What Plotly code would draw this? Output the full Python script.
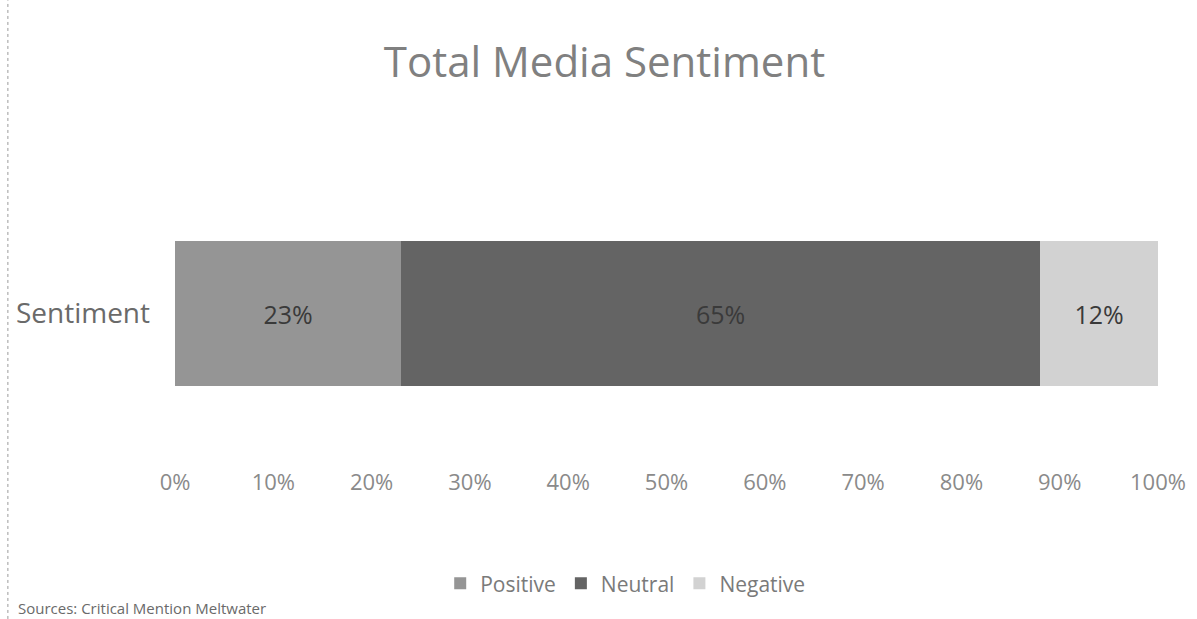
import plotly.graph_objects as go

# Share of coverage by sentiment (fractions of total)
category = ["Sentiment"]
series_names = ["Positive", "Neutral", "Negative"]
series_values = [[0.23], [0.65], [0.12]]
series_colors = ["#959595", "#646464", "#d2d2d2"]
tick_values = [0, 0.1, 0.2, 0.3, 0.4, 0.5, 0.6, 0.7, 0.8, 0.9, 1.0]
tick_labels = ["0%", "10%", "20%", "30%", "40%", "50%", "60%", "70%", "80%", "90%", "100%"]

font_family = "Open Sans, Liberation Sans, sans-serif"

fig = go.Figure()
for name, vals, color in zip(series_names, series_values, series_colors):
    fig.add_trace(go.Bar(
        y=category,
        x=vals,
        name=name,
        orientation="h",
        marker=dict(color=color, line=dict(width=0)),
        text=[f"{v:.0%}" for v in vals],
        textposition="inside",
        insidetextanchor="middle",
        textfont=dict(size=25, color="#3a3a3a", family=font_family),
    ))

fig.update_layout(
    barmode="stack",
    bargap=0.53,
    width=1197,
    height=619,
    margin=dict(l=175, r=39, t=160, b=152),
    paper_bgcolor="white",
    plot_bgcolor="white",
    title=dict(
        text="Total Media Sentiment",
        x=0.505,
        xanchor="center",
        y=0.9,
        yanchor="middle",
        font=dict(size=42, color="#808080", family=font_family),
    ),
    xaxis=dict(
        range=[0, 1],
        tickvals=tick_values,
        ticktext=tick_labels,
        showgrid=False,
        zeroline=False,
        showline=False,
        ticks="",
        tickfont=dict(size=22, color="#8a8a8a", family=font_family),
    ),
    yaxis=dict(
        showgrid=False,
        showline=False,
        ticks="",
        ticklabelstandoff=24,
        tickfont=dict(size=28, color="#6a6a6a", family=font_family),
    ),
    legend=dict(
        orientation="h",
        x=0.458,
        xanchor="center",
        y=-0.38,
        yanchor="middle",
        font=dict(size=21, color="#7a7a7a", family=font_family),
        traceorder="normal",
    ),
    showlegend=True,
)

# Source note at the bottom left
fig.add_annotation(
    text="Sources: Critical Mention Meltwater",
    xref="paper", yref="paper",
    x=-0.162, y=-0.46,
    xanchor="left", yanchor="middle",
    showarrow=False,
    font=dict(size=15, color="#6a6a6a", family=font_family),
)

# Dotted frame edge on the left
fig.add_shape(
    type="line",
    xref="paper", yref="paper",
    x0=-0.17, x1=-0.17, y0=-0.495, y1=1.52,
    line=dict(color="#9a9a9a", width=1, dash="dot"),
)

fig.write_html("out.html")
